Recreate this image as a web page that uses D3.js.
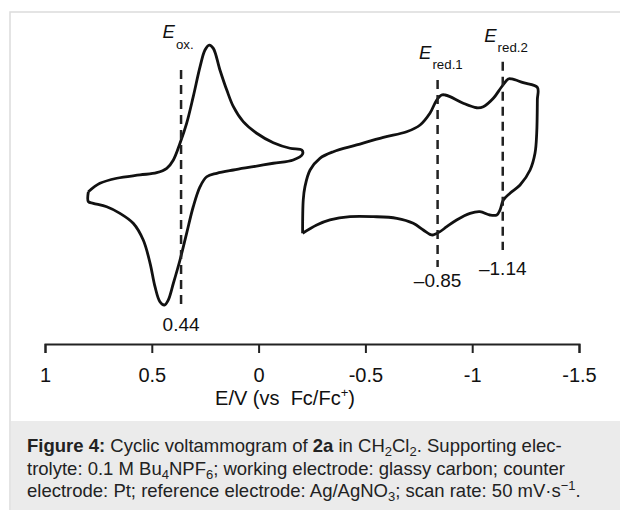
<!DOCTYPE html>
<html>
<head>
<meta charset="utf-8">
<script src="https://cdn.jsdelivr.net/npm/d3@7"></script>
<style>
  body { margin: 0; background: #fff; }
  svg { display: block; font-family: "Liberation Sans", Arial, Helvetica, sans-serif; }
  .axis text { font-size: 20px; fill: #111; }
  .axis path, .axis line { stroke: #222; stroke-width: 2; }
</style>
</head>
<body>
<div id="chart"></div>
<script>
// potential axis (V vs Fc/Fc+)
var potentialTicks = [1, 0.5, 0, -0.5, -1, -1.5];

// oxidation wave, one closed cycle (E in V, current in arbitrary units)
var oxE = [0.797, 0.743, 0.664, 0.555, 0.477, 0.430, 0.399, 0.368, 0.337, 0.306, 0.274, 0.251, 0.231, 0.212, 0.181, 0.149, 0.118, 0.072, 0.009, -0.069, -0.147, -0.202, -0.206,
           -0.162, -0.069, 0.025, 0.118, 0.196, 0.243, 0.274, 0.306, 0.337, 0.368, 0.399, 0.423, 0.441, 0.462, 0.485, 0.508, 0.540, 0.587, 0.649, 0.711, 0.774, 0.797, 0.797];
var oxI = [-1.45, -0.89, -0.55, -0.33, -0.18, 0.11, 0.67, 1.78, 3.11, 4.89, 6.89, 8.0, 8.33, 8.11, 6.67, 5.33, 4.22, 3.22, 2.45, 1.82, 1.45, 1.33, 1.07,
           0.67, 0.45, 0.22, 0, -0.22, -0.45, -1.11, -2.45, -4.22, -6.0, -7.55, -8.67, -9.0, -8.78, -7.78, -6.22, -4.67, -3.55, -2.89, -2.45, -2.22, -2.11, -1.45];

// reduction waves, one closed cycle
var redE = [-0.206, -0.209, -0.217, -0.241, -0.287, -0.350, -0.459, -0.584, -0.693, -0.756, -0.802, -0.834, -0.857, -0.873, -0.896, -0.958, -1.021, -1.052, -1.099, -1.138, -1.169, -1.185, -1.239, -1.305,
            -1.305, -1.302, -1.294, -1.271, -1.224, -1.177, -1.146, -1.130, -1.115, -1.083, -1.036, -0.990, -0.927, -0.881, -0.849, -0.818, -0.802, -0.771, -0.724, -0.647, -0.537, -0.428, -0.334, -0.272, -0.206];
var redI = [-4.22, -2.0, -1.11, 0, 0.78, 1.22, 1.67, 2.18, 2.55, 3.0, 3.78, 4.67, 5.0, 5.0, 4.89, 4.45, 4.15, 4.22, 4.78, 5.55, 6.07, 6.07, 5.82, 5.51,
            4.67, 2.45, 1.11, 0, -1.0, -1.55, -2.0, -2.67, -3.0, -3.0, -2.78, -2.89, -3.33, -3.78, -4.11, -4.33, -4.29, -4.0, -3.55, -3.22, -3.11, -3.11, -3.33, -3.67, -4.22];

// marked potentials
var markerNames = ["ox.", "red.1", "red.2"];
var markerE = [0.363, -0.838, -1.143];
var markerTopI = [6.67, 6.0, 7.22];
var markerBottomI = [-9.13, -6.47, -5.33];
var markerValueText = ["0.44", "\u20130.85", "\u20131.14"];

var width = 620, height = 510;

var svg = d3.select("#chart").append("svg")
    .attr("width", width)
    .attr("height", height);

// page frame and caption box
svg.append("rect").attr("x", 10).attr("y", 12).attr("width", 620).attr("height", 520)
    .attr("fill", "#fff").attr("stroke", "#dcdcdc").attr("stroke-width", 1.5);
svg.append("rect").attr("x", 11).attr("y", 421).attr("width", 609).attr("height", 89)
    .attr("fill", "#ebebeb");

var xScale = d3.scaleLinear().domain([1, -1.5]).range([45, 579]);
var yScale = d3.scaleLinear().domain([-10, 10]).range([320, 20]);

var xAxis = d3.axisBottom(xScale)
    .tickValues(potentialTicks)
    .tickFormat(function(d){ return String(d); })
    .tickSize(9)
    .tickPadding(15);

svg.append("g")
    .attr("class", "axis")
    .attr("transform", "translate(0,344)")
    .call(xAxis);

var title = svg.append("text")
    .attr("x", 285)
    .attr("y", 405)
    .attr("text-anchor", "middle")
    .attr("font-size", 20)
    .attr("fill", "#111");
title.append("tspan").text("E/V (vs \u00a0Fc/Fc");
title.append("tspan").attr("font-size", 13).attr("dy", -8).text("+");
title.append("tspan").attr("dy", 8).text(")");

var line = d3.line()
    .x(function(d){ return xScale(d[0]); })
    .y(function(d){ return yScale(d[1]); })
    .curve(d3.curveCatmullRom.alpha(0.5));

var curves = [d3.zip(oxE, oxI), d3.zip(redE, redI)];

svg.selectAll(".cv")
    .data(curves).enter()
    .append("path")
        .attr("class", "cv")
        .attr("d", line)
        .attr("fill", "none")
        .attr("stroke", "#111")
        .attr("stroke-width", 2.8)
        .attr("stroke-linejoin", "round");

// dashed markers
var labelGapTop = [31.5, 21.5, 20];
var labelGapBottom = [24, 20, 25];

svg.selectAll(".marker")
    .data(markerE).enter()
    .append("line")
        .attr("class", "marker")
        .attr("x1", function(d){ return xScale(d); })
        .attr("x2", function(d){ return xScale(d); })
        .attr("y1", function(d, i){ return yScale(markerTopI[i]); })
        .attr("y2", function(d, i){ return yScale(markerBottomI[i]); })
        .attr("stroke", "#222")
        .attr("stroke-width", 2.5)
        .attr("stroke-dasharray", "9,6");

var names = svg.selectAll(".marker-name")
    .data(markerNames).enter()
    .append("text")
        .attr("class", "marker-name")
        .attr("x", function(d, i){ return xScale(markerE[i]) - 18.5; })
        .attr("y", function(d, i){ return yScale(markerTopI[i]) - labelGapTop[i]; })
        .attr("fill", "#111");
names.append("tspan")
    .attr("font-size", 18.5)
    .attr("font-style", "italic")
    .text("E");
names.append("tspan")
    .attr("font-size", 13.3)
    .attr("dx", 1)
    .attr("dy", 10.7)
    .text(function(d){ return d; });

svg.selectAll(".marker-value")
    .data(markerValueText).enter()
    .append("text")
        .attr("class", "marker-value")
        .attr("x", function(d, i){ return xScale(markerE[i]); })
        .attr("y", function(d, i){ return yScale(markerBottomI[i]) + labelGapBottom[i]; })
        .attr("text-anchor", "middle")
        .attr("font-size", 19)
        .attr("fill", "#111")
        .text(function(d){ return d; });

// caption
var caption = svg.append("g")
    .attr("font-size", 18.5)
    .attr("fill", "#222");

var l1 = caption.append("text").attr("x", 27).attr("y", 452);
l1.append("tspan").attr("font-weight", "bold").text("Figure 4:");
l1.append("tspan").text(" Cyclic voltammogram of ");
l1.append("tspan").attr("font-weight", "bold").text("2a");
l1.append("tspan").text(" in CH");
l1.append("tspan").attr("font-size", 13).attr("dy", 4).text("2");
l1.append("tspan").attr("dy", -4).text("Cl");
l1.append("tspan").attr("font-size", 13).attr("dy", 4).text("2");
l1.append("tspan").attr("dy", -4).text(". Supporting elec-");

var l2 = caption.append("text").attr("x", 27).attr("y", 474.5);
l2.append("tspan").text("trolyte: 0.1 M Bu");
l2.append("tspan").attr("font-size", 13).attr("dy", 4).text("4");
l2.append("tspan").attr("dy", -4).text("NPF");
l2.append("tspan").attr("font-size", 13).attr("dy", 4).text("6");
l2.append("tspan").attr("dy", -4).text("; working electrode: glassy carbon; counter");

var l3 = caption.append("text").attr("x", 27).attr("y", 497);
l3.append("tspan").text("electrode: Pt; reference electrode: Ag/AgNO");
l3.append("tspan").attr("font-size", 13).attr("dy", 4).text("3");
l3.append("tspan").attr("dy", -4).text("; scan rate: 50 mV\u00b7s");
l3.append("tspan").attr("font-size", 13).attr("dy", -7).text("\u22121");
l3.append("tspan").attr("dy", 7).text(".");
</script>
</body>
</html>
